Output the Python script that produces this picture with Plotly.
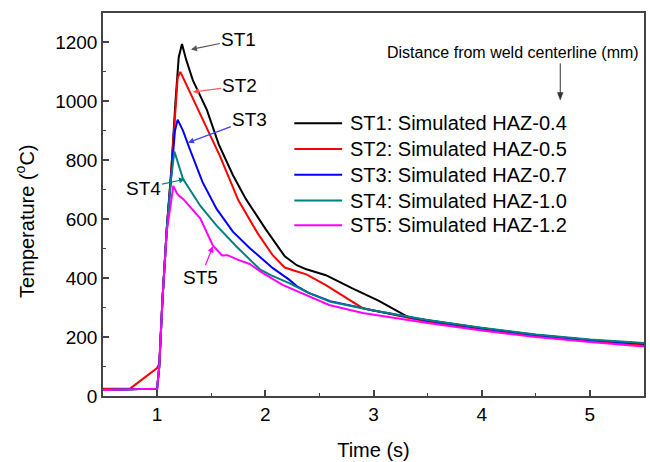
import plotly.graph_objects as go

# ---- data ----
names = ["ST1: Simulated HAZ-0.4", "ST2: Simulated HAZ-0.5", "ST3: Simulated HAZ-0.7",
         "ST4: Simulated HAZ-1.0", "ST5: Simulated HAZ-1.2"]
colors = ["#000000", "#ff0000", "#0000ff", "#008080", "#ff00ff"]

st1_t = [0.5, 1.0, 1.02, 1.05, 1.09, 1.13, 1.17, 1.20, 1.23, 1.27, 1.33, 1.46, 1.57, 1.70, 1.82,
         2.0, 2.18, 2.29, 2.38, 2.56, 2.80, 3.05, 3.30, 3.35, 3.5, 4.0, 4.5, 5.0, 5.5]
st1_T = [20, 25, 100, 330, 570, 760, 1000, 1150, 1195, 1140, 1072, 971, 854, 750, 669,
         568, 474, 444, 430, 410, 366, 323, 272, 265, 257, 230, 207, 189, 176]

st2_t = [0.5, 0.75, 1.0, 1.02, 1.05, 1.09, 1.13, 1.17, 1.19, 1.215, 1.26, 1.33, 1.46, 1.58, 1.75,
         1.93, 2.07, 2.18, 2.27, 2.38, 2.56, 2.75, 2.90, 3.0, 3.5, 4.0, 4.5, 5.0, 5.5]
st2_T = [25, 25, 95, 110, 330, 570, 760, 1000, 1080, 1100, 1065, 1010, 910, 815, 665,
         552, 477, 436, 425, 413, 376, 333, 298, 290, 252, 226, 204, 186, 171]

st3_t = [0.5, 1.0, 1.02, 1.05, 1.09, 1.13, 1.165, 1.19, 1.24, 1.30, 1.42, 1.55, 1.70, 1.86,
         2.07, 2.22, 2.29, 2.40, 2.6, 3.0, 3.5, 4.0, 4.5, 5.0, 5.5]
st3_T = [20, 25, 100, 330, 570, 760, 900, 938, 900, 840, 726, 635, 558, 501,
         434, 395, 373, 350, 322, 290, 256, 230, 207, 190, 178]

st4_t = [0.5, 1.0, 1.02, 1.05, 1.09, 1.13, 1.16, 1.24, 1.40, 1.55, 1.74, 1.85, 1.95, 2.05,
         2.22, 2.4, 2.6, 3.0, 3.5, 4.0, 4.5, 5.0, 5.5]
st4_T = [20, 25, 100, 330, 570, 740, 830, 736, 645, 578, 505, 465, 430, 410,
         383, 350, 320, 290, 258, 232, 209, 192, 180]

st5_t = [0.5, 1.0, 1.02, 1.05, 1.09, 1.15, 1.18, 1.20, 1.24, 1.40, 1.515, 1.60, 1.65, 1.75,
         1.855, 1.975, 2.16, 2.29, 2.59, 2.90, 3.30, 3.5, 4.0, 4.5, 5.0, 5.5]
st5_T = [20, 25, 100, 330, 560, 713, 690, 680, 669, 602, 511, 477, 478, 462,
         448, 418, 377, 356, 309, 282, 258, 248, 222, 200, 183, 168]

series_t = [st1_t, st2_t, st3_t, st4_t, st5_t]
series_T = [st1_T, st2_T, st3_T, st4_T, st5_T]

labels = ["ST1", "ST2", "ST3", "ST4", "ST5"]
arrow_head = [(1.313, 1176), (1.331, 1032), (1.285, 860), (1.258, 736), (1.515, 508)]
label_off = [(48, -10), (47, -6), (62, -23), (-42, 9), (-12, 31)]
arrow_colors = ["#555555", "#ff5050", "#4040ff", "#008080", "#ff00ff"]

x_ticks = [1, 2, 3, 4, 5]
y_ticks = [0, 200, 400, 600, 800, 1000, 1200]

FONT = "Arial, Liberation Sans, sans-serif"

fig = go.Figure()
for n, c, t, T in zip(names, colors, series_t, series_T):
    fig.add_trace(go.Scatter(x=t, y=T, mode="lines", name=n, showlegend=False,
                             line=dict(color=c, width=2)))

ann = []
shapes = []
# labelled arrows pointing at each curve
for lab, (hx, hy), (ax, ay), ac in zip(labels, arrow_head, label_off, arrow_colors):
    ann.append(dict(x=hx, y=hy, xref="x", yref="y", text=lab, showarrow=True,
                    ax=ax, ay=ay, arrowhead=2, arrowsize=1, arrowwidth=1.2,
                    arrowcolor=ac, font=dict(size=19, color="black", family=FONT)))

# key (legend) drawn at the reference position
leg_y = [0.7124, 0.6451, 0.5777, 0.5104, 0.4456]
for n, c, ly in zip(names, colors, leg_y):
    shapes.append(dict(type="line", xref="paper", yref="paper", x0=0.3536, x1=0.442,
                       y0=ly, y1=ly, line=dict(color=c, width=2)))
    ann.append(dict(x=0.453, y=ly, xref="paper", yref="paper", text=n, showarrow=False,
                    xanchor="left", yanchor="middle",
                    font=dict(size=20, color="black", family=FONT)))

ann.append(dict(x=0.994, y=0.896, xref="paper", yref="paper",
                text="Distance from weld centerline (mm)", xanchor="right", yanchor="middle",
                showarrow=False, font=dict(size=16, color="black", family=FONT)))
# vertical pointer below the "Distance ..." note
shapes.append(dict(type="line", xref="x", yref="y", x0=4.726, x1=4.726, y0=1129, y1=1025,
                   line=dict(color="#333333", width=1)))
shapes.append(dict(type="path", xref="x", yref="y",
                   path="M 4.700,1030 L 4.752,1030 L 4.726,1005 Z",
                   fillcolor="#333333", line=dict(color="#333333", width=0.5)))
ann.append(dict(x=-0.145, y=0.456, xref="paper", yref="paper", text="Temperature (<sup>o</sup>C)",
                textangle=-90, showarrow=False, xanchor="center", yanchor="middle",
                font=dict(size=20, color="black", family=FONT)))

fig.update_layout(
    width=650, height=462,
    margin=dict(l=103, r=4, t=13, b=63),
    paper_bgcolor="white", plot_bgcolor="white",
    font=dict(family=FONT, color="black"),
    showlegend=False,
    annotations=ann,
    shapes=shapes,
)
fig.update_xaxes(range=[0.5, 5.5], tickvals=x_ticks, ticks="inside", ticklen=6, tickwidth=1.5,
                 tickcolor="#444", showline=True, linecolor="#444", linewidth=1.5, mirror=True,
                 showgrid=False, zeroline=False, tickfont=dict(size=19, family=FONT),
                 minor=dict(dtick=0.5, ticks="inside", ticklen=3, tickcolor="#444", tickwidth=1.2),
                 title=dict(text="Time (s)", font=dict(size=20, family=FONT), standoff=19))
fig.update_yaxes(range=[0, 1300], tickvals=y_ticks, ticks="inside", ticklen=6, tickwidth=1.5,
                 tickcolor="#444", showline=True, linecolor="#444", linewidth=1.5, mirror=True,
                 showgrid=False, zeroline=False, tickfont=dict(size=19, family=FONT),
                 minor=dict(dtick=100, ticks="inside", ticklen=3, tickcolor="#444", tickwidth=1.2))

fig.write_html("out.html")
